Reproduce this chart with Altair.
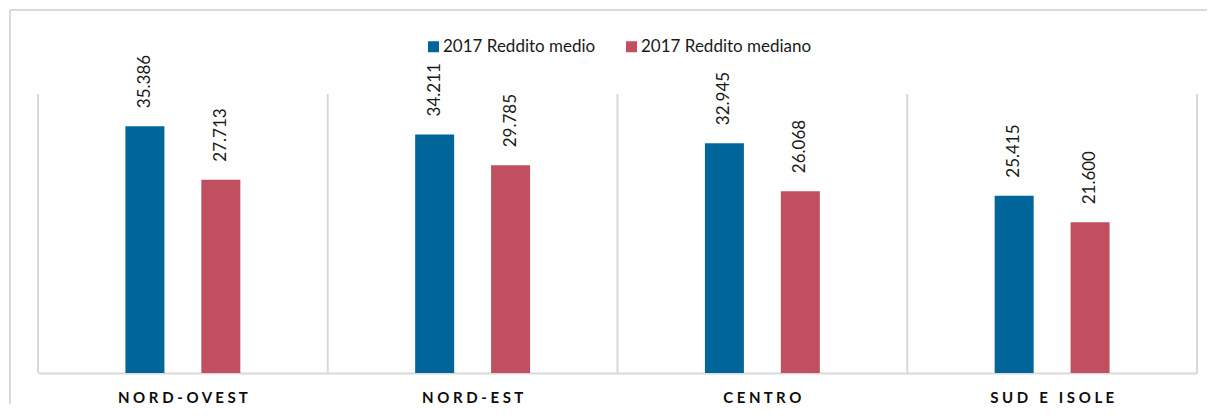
import altair as alt
import pandas as pd

regions = ["NORD-OVEST", "NORD-EST", "CENTRO", "SUD E ISOLE"]
series = ["2017 Reddito medio", "2017 Reddito mediano"]
reddito_medio = [35386, 34211, 32945, 25415]
reddito_mediano = [27713, 29785, 26068, 21600]
colors = ["#006699", "#C0505F"]

rows = []
for i, r in enumerate(regions):
    for s, vals in zip(series, [reddito_medio, reddito_mediano]):
        v = vals[i]
        rows.append({"region": r, "series": s, "value": v,
                     "label": f"{v:,}".replace(",", ".")})
df = pd.DataFrame(rows)
df_reg = pd.DataFrame({"region": regions})

W, H = 1159, 279
GRID = "#d9d9d9"
NB = "\u00a0"

x_enc = alt.X("region:N", sort=regions,
              scale=alt.Scale(paddingInner=0, paddingOuter=0),
              axis=alt.Axis(title=None, ticks=False, grid=False,
                            domainColor=GRID, domainWidth=2,
                            labelFont="Lato", labelFontSize=15,
                            labelFontWeight="bold", labelColor="#0d0d0d",
                            labelPadding=24, labelAngle=0, labelAlign="center",
                            labelLimit=400,
                            labelExpr="join(split(datum.label, ''), '" + NB + "')"))
xoff = alt.XOffset("series:N", sort=series,
                   scale=alt.Scale(paddingInner=0, paddingOuter=0.908))
y_enc = alt.Y("value:Q", scale=alt.Scale(domain=[0, 40000], nice=False),
              axis=None)

grid = alt.Chart(df_reg).mark_rule(color=GRID, strokeWidth=2).encode(
    x=alt.X("region:N", sort=regions, bandPosition=0),
    y=alt.value(0), y2=alt.value(H))
right = alt.Chart(df_reg).mark_rule(color=GRID, strokeWidth=2).encode(
    x=alt.value(W), y=alt.value(0), y2=alt.value(H))
border_top = alt.Chart(df_reg).mark_rule(color=GRID, strokeWidth=2).encode(
    x=alt.value(-28), x2=alt.value(W + 12), y=alt.value(-84))
border_left = alt.Chart(df_reg).mark_rule(color=GRID, strokeWidth=2).encode(
    x=alt.value(-28), y=alt.value(-84), y2=alt.value(H + 40))

bars = alt.Chart(df).mark_bar(width=39).encode(
    x=x_enc, xOffset=xoff, y=y_enc,
    color=alt.Color("series:N", sort=series,
                    scale=alt.Scale(domain=series, range=colors),
                    legend=alt.Legend(orient="none", legendX=387, legendY=-56,
                                      direction="horizontal", title=None,
                                      symbolType="square", symbolSize=121,
                                      symbolStrokeWidth=0, labelLimit=400,
                                      labelFont="Lato", labelFontSize=17,
                                      labelColor="#1a1a1a",
                                      columnPadding=27, labelOffset=1)))
labels = alt.Chart(df).mark_text(angle=270, align="left", baseline="middle",
                                 dx=18, font="Lato", fontSize=17,
                                 color="#1a1a1a").encode(
    x=x_enc, xOffset=xoff, y=y_enc, text="label:N")

chart = alt.layer(grid, right, border_top, border_left, bars, labels).properties(
    width=W, height=H,
    padding={"left": 30, "top": 86, "right": 10, "bottom": 31},
    autosize=alt.AutoSizeParams(type="none"),
).configure_view(stroke=None)

chart.save("out.html", embed_options={"renderer": "svg", "actions": False})
